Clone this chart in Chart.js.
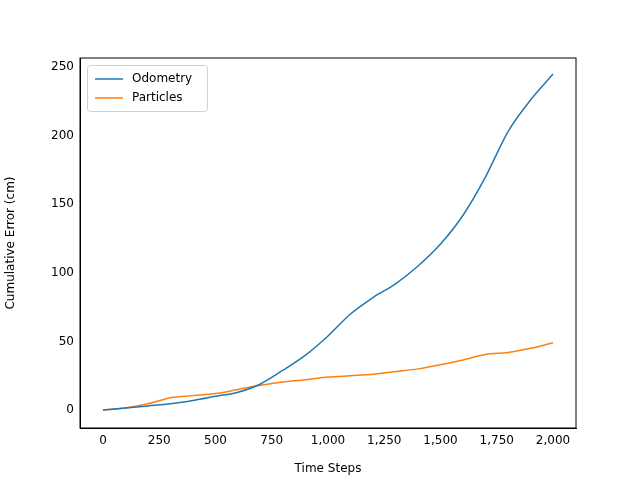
<!DOCTYPE html>
<html><head><meta charset="utf-8">
<script src="https://cdn.jsdelivr.net/npm/chart.js@4"></script>
<style>body{margin:0;background:#fff}</style>
</head><body><canvas id="c" width="640" height="480"></canvas>
<script>
// time steps
const steps = [0,100,200,300,400,500,600,700,800,900,1000,1100,1200,1300,1400,1500,1600,1700,1800,1900,2000];
const odometry = [0,1.5,3,4.5,7,10,13,19,29,40,54,70,82,92,105,121,142,170,203,226,245];
const particles = [0,1.5,4.5,9,10.5,12,15,18,20.5,22,24,25,26,28,30,33,36.5,40.5,42,45,49];
const xTicks = [0,250,500,750,1000,1250,1500,1750,2000];
const yTicks = [0,50,100,150,200,250];

const pts = (ys) => steps.map((x,i) => ({x:x, y:ys[i]}));
const font = {family:'DejaVu Sans', size:12};

const boxLegend = {
  id:'boxLegend',
  afterDraw(chart){
    const ctx = chart.ctx, a = chart.chartArea;
    const x0 = a.left+7, y0 = a.top+7, w = 120, h = 46;
    ctx.save();
    ctx.fillStyle='rgba(255,255,255,0.8)'; ctx.strokeStyle='#d0d0d0'; ctx.lineWidth=1;
    ctx.beginPath(); ctx.roundRect(x0+0.5,y0+0.5,w,h,3); ctx.fill(); ctx.stroke();
    ctx.font='12px DejaVu Sans'; ctx.textBaseline='middle';
    chart.data.datasets.forEach((d,i)=>{
      const yy = y0+14+i*19;
      ctx.strokeStyle=d.borderColor; ctx.lineWidth=1.5;
      ctx.beginPath(); ctx.moveTo(x0+8,yy); ctx.lineTo(x0+36,yy); ctx.stroke();
      ctx.fillStyle='#000'; ctx.fillText(d.label,x0+45,yy);
    });
    ctx.restore();
  }
};

new Chart(document.getElementById('c'), {
  type:'line',
  data:{datasets:[
    {label:'Odometry', data:pts(odometry), borderColor:'#1f77b4', borderWidth:1.5, pointRadius:0, cubicInterpolationMode:'monotone'},
    {label:'Particles', data:pts(particles), borderColor:'#ff7f0e', borderWidth:1.5, pointRadius:0, cubicInterpolationMode:'monotone'}
  ]},
  options:{
    responsive:false, animation:false, devicePixelRatio:1,
    layout:{padding:{top:58,right:64,left:0,bottom:0}},
    plugins:{legend:{display:false}, tooltip:{enabled:false}},
    scales:{
      x:{type:'linear', min:-102, max:2102,
        afterFit(s){s.height=52;},
        afterBuildTicks(s){s.ticks=xTicks.map(v=>({value:v}));},
        grid:{display:false, drawTicks:true, tickLength:4, tickColor:'#000'},
        border:{color:'#000'},
        ticks:{color:'#000', font:font, maxRotation:0, padding:2},
        title:{display:true, text:'Time Steps', color:'#000', font:font, padding:{top:2}}},
      y:{min:-13.1, max:256.6,
        afterFit(s){s.width=80;},
        afterBuildTicks(s){s.ticks=yTicks.map(v=>({value:v}));},
        grid:{display:false, tickLength:4, tickColor:'#000'},
        border:{color:'#000'},
        ticks:{color:'#000', font:font, padding:2},
        title:{display:true, text:'Cumulative Error (cm)', color:'#000', font:font}}
    }
  },
  plugins:[boxLegend, {id:'frame', afterDraw(c){const a=c.chartArea,ctx=c.ctx;ctx.save();ctx.strokeStyle='#000';ctx.lineWidth=1;ctx.strokeRect(a.left,a.top,a.right-a.left,a.bottom-a.top);ctx.restore();}}]
});
</script></body></html>
